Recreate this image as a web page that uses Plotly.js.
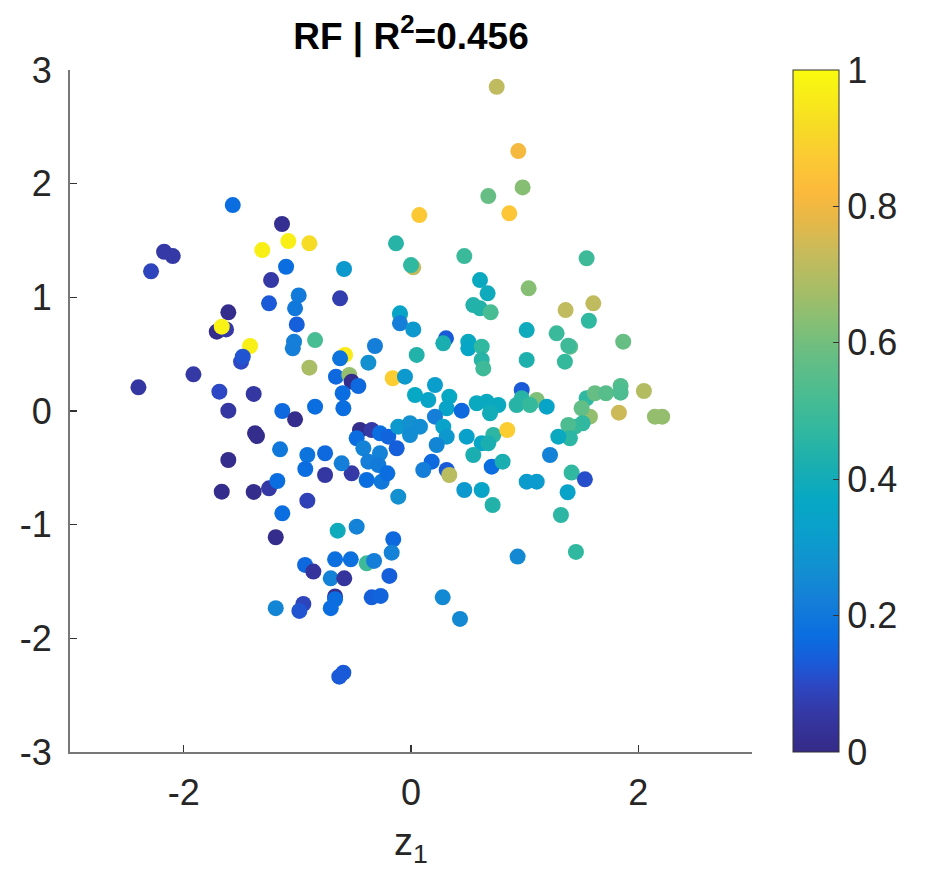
<!DOCTYPE html>
<html>
<head>
<meta charset="utf-8">
<script src="https://cdn.plot.ly/plotly-3.0.1.min.js"></script>
<style>html,body{margin:0;padding:0;background:#fff;}#chart{width:925px;height:883px;}</style>
</head>
<body>
<div id="chart"></div>
<script>
// z1 coordinates
const z1 = [
-1.568,-1.135,-1.308,-1.079,-0.894,-2.172,-2.096,-2.287,-1.099,-1.231,
-0.988,-1.249,-1.02,-1.005,-1.607,-1.709,-1.627,-1.665,-1.416,-1.495,
-1.48,-1.04,-1.029,-0.844,-0.894,-1.914,-2.398,-1.686,-1.384,-1.607,
-1.132,-1.02,-0.844,-1.372,-1.355,-1.152,-0.912,-0.93,-1.607,-1.665,
-1.384,-1.249,-1.176,-0.912,-1.132,-1.19,-0.932,-0.859,-1.19,-0.947,
-0.982,
0.754,0.944,0.982,0.68,0.865,0.073,-0.132,0.02,0.0,0.469,
0.607,0.674,1.035,-0.589,-0.624,1.545,
0.548,0.607,0.701,-0.097,-0.097,-0.097,0.02,-0.58,-0.624,-0.317,
-0.375,0.05,0.308,0.284,0.504,0.504,0.622,0.622,0.636,1.018,
1.018,-0.66,-0.543,-0.522,-0.463,-0.601,-0.161,-0.053,0.211,0.035,
0.152,0.337,0.314,0.446,0.578,0.666,0.768,0.695,0.974,0.974,
0.93,1.106,1.047,-0.595,-0.449,-0.346,-0.273,-0.478,-0.2,-0.112,
-0.009,0.079,-0.009,0.211,0.284,0.314,0.226,0.49,0.622,0.548,
0.724,0.68,0.847,0.71,0.806,0.314,0.337,0.182,0.108,-0.126,
-0.273,-0.419,-0.375,-0.287,-0.39,-0.258,-0.208,-0.522,-0.61,-0.756,
-0.756,-0.112,0.469,0.622,0.718,1.018,1.106,
1.36,1.604,1.565,1.281,1.40,1.384,1.354,1.867,1.194,1.545,
1.618,1.715,1.844,1.844,2.049,1.574,1.501,1.829,2.146,2.21,
1.51,1.442,1.384,1.398,1.296,1.223,1.413,1.53,1.378,1.319,
1.451,
-0.645,-0.478,-0.156,-0.17,-0.668,-0.53,-0.39,-0.325,-0.706,-0.587,
-0.19,-0.668,-0.668,-0.706,-0.346,-0.267,0.279,0.431,0.938,-0.595,
-0.631
];
// z2 coordinates
const z2 = [
1.812,1.645,1.416,1.495,1.475,1.401,1.363,1.229,1.269,1.152,
1.017,0.947,0.903,0.762,0.868,0.698,0.718,0.742,0.572,0.434,
0.478,0.551,0.61,0.624,0.381,0.323,0.208,0.17,0.15,0.003,
0.0,-0.073,0.038,-0.196,-0.22,-0.337,-0.387,-0.51,-0.431,-0.71,
-0.712,-0.68,-0.616,-0.789,-0.9,-1.111,-1.354,-1.413,-1.735,-1.697,
-1.759,
2.852,2.287,1.967,1.891,1.739,1.724,1.475,1.264,1.284,1.363,
1.152,1.035,1.079,1.249,0.991,1.343,
0.932,0.903,0.868,0.85,0.859,0.771,0.718,0.493,0.463,0.572,
0.425,0.493,0.639,0.595,0.61,0.551,0.566,0.449,0.375,0.712,
0.449,0.302,0.317,0.258,0.22,0.156,0.288,0.302,0.229,0.141,
0.097,0.126,0.024,0.003,0.068,0.082,0.053,-0.02,0.185,0.112,
0.053,0.097,0.053,0.024,-0.167,-0.167,-0.196,-0.24,-0.226,-0.138,
-0.108,-0.138,-0.211,-0.05,-0.138,-0.226,-0.299,-0.226,-0.284,-0.387,
-0.211,-0.284,-0.167,-0.49,-0.446,-0.519,-0.563,-0.446,-0.519,-0.328,
-0.372,-0.328,-0.446,-0.475,-0.607,-0.622,-0.548,-0.548,-0.46,-0.372,
-0.563,-0.754,-0.695,-0.695,-0.827,-0.622,-0.622,
0.888,0.947,0.794,0.683,0.566,0.575,0.434,0.61,0.038,0.112,
0.156,0.156,0.22,0.161,0.176,-0.05,0.024,-0.015,-0.05,-0.05,
-0.108,-0.138,-0.123,-0.24,-0.226,-0.387,-0.542,-0.601,-0.715,-0.915,
-1.24,
-1.053,-1.018,-1.128,-1.246,-1.305,-1.305,-1.34,-1.319,-1.472,-1.472,
-1.451,-1.631,-1.656,-1.735,-1.639,-1.627,-1.639,-1.829,-1.281,-2.302,
-2.337
];
// colour values (0..1)
const vals = [
0.17,0.02,0.97,0.97,0.92,0.06,0.06,0.09,0.17,0.06,
0.21,0.13,0.20,0.14,0.01,0.01,0.06,0.98,0.97,0.10,
0.12,0.22,0.22,0.52,0.68,0.06,0.05,0.10,0.05,0.05,
0.16,0.01,0.17,0.01,0.01,0.20,0.19,0.17,0.01,0.01,
0.01,0.06,0.17,0.08,0.17,0.01,0.16,0.04,0.24,0.09,
0.12,
0.72,0.81,0.63,0.58,0.86,0.87,0.45,0.72,0.47,0.49,
0.38,0.39,0.63,0.30,0.07,0.50,
0.44,0.44,0.52,0.58,0.35,0.22,0.30,0.96,0.19,0.22,
0.27,0.44,0.13,0.42,0.38,0.36,0.47,0.45,0.50,0.39,
0.43,0.16,0.65,0.01,0.16,0.17,0.88,0.30,0.32,0.37,
0.35,0.37,0.35,0.16,0.38,0.38,0.38,0.40,0.13,0.45,
0.45,0.62,0.48,0.17,0.01,0.06,0.17,0.17,0.15,0.30,
0.27,0.26,0.26,0.22,0.34,0.30,0.24,0.33,0.36,0.42,
0.46,0.42,0.88,0.17,0.42,0.13,0.71,0.16,0.22,0.14,
0.23,0.23,0.22,0.21,0.17,0.20,0.17,0.06,0.22,0.16,
0.05,0.27,0.30,0.35,0.44,0.31,0.31,
0.72,0.72,0.47,0.49,0.55,0.50,0.48,0.58,0.35,0.47,
0.58,0.55,0.54,0.53,0.70,0.65,0.57,0.74,0.65,0.65,
0.47,0.48,0.53,0.46,0.38,0.23,0.47,0.11,0.34,0.46,
0.47,
0.39,0.23,0.16,0.23,0.18,0.18,0.50,0.22,0.23,0.04,
0.14,0.02,0.17,0.17,0.14,0.15,0.25,0.25,0.25,0.13,
0.13
];
const yTickVals = [-3,-2,-1,0,1,2,3];
const yTickText = ['-3','-2','-1','0','1','2','3'];
const xTickVals = [-2,0,2];
const xTickText = ['-2','0','2'];
const cTickVals = [0,0.2,0.4,0.6,0.8,1];
const cTickText = ['0','0.2','0.4','0.6','0.8','1'];

const parula = [
[0.00,'#352a87'],[0.06,'#3439a6'],[0.10,'#2c48c4'],[0.13,'#1a5ad8'],
[0.17,'#0a6ee0'],[0.22,'#147ed8'],[0.27,'#1290d0'],[0.32,'#0a9ecc'],
[0.37,'#07a8c4'],[0.42,'#1aaeb0'],[0.47,'#30b8a0'],[0.52,'#48bc92'],
[0.58,'#66be84'],[0.63,'#86bf74'],[0.68,'#a8bd66'],[0.73,'#c6bb5c'],
[0.78,'#e6b848'],[0.82,'#fbb93c'],[0.87,'#fcc934'],[0.92,'#f6dc24'],
[1.00,'#f9fb0e']
];

const FONT = 'Liberation Sans, Arial, Helvetica, sans-serif';
const TICK = 36;
const trace = {
  type: 'scatter', mode: 'markers', x: z1, y: z2,
  marker: {
    size: 16, color: vals, colorscale: parula, cmin: 0, cmax: 1,
    line: {width: 0}, opacity: 1,
    colorbar: {
      x: 1.0601, xanchor: 'left', y: 0.5, yanchor: 'middle',
      len: 1, lenmode: 'fraction', thickness: 46, ypad: 0, xpad: 0,
      outlinewidth: 1, outlinecolor: '#333',
      tickmode: 'array', tickvals: cTickVals, ticktext: cTickText,
      ticks: 'inside', ticklen: 6, tickcolor: '#333', tickwidth: 1,
      tickfont: {family: FONT, size: TICK, color: '#262626'}
    }
  },
  hoverinfo: 'x+y'
};

const axisCommon = {
  showgrid: false, zeroline: false, showline: true, mirror: false,
  linecolor: '#777', linewidth: 2, ticks: 'inside', ticklen: 7,
  tickcolor: '#333', tickwidth: 1.5,
  tickfont: {family: FONT, size: TICK, color: '#262626'}
};

const layout = {
  width: 925, height: 883,
  margin: {l: 70, r: 173, t: 70, b: 131},
  paper_bgcolor: '#fff', plot_bgcolor: '#fff',
  showlegend: false,
  title: {
    text: '<b>RF | R<sup>2</sup>=0.456</b>',
    font: {family: FONT, size: 37, color: '#000'},
    x: 0.5, xref: 'paper', xanchor: 'center',
    y: 1 - 36/883, yref: 'container', yanchor: 'middle'
  },
  xaxis: Object.assign({}, axisCommon, {
    range: [-3, 3], tickmode: 'array', tickvals: xTickVals, ticktext: xTickText,
    ticklabelstandoff: 8,
    title: {text: 'z<sub>1</sub>', font: {family: FONT, size: 38, color: '#262626'}, standoff: 16}
  }),
  yaxis: Object.assign({}, axisCommon, {
    range: [-3, 3], tickmode: 'array', tickvals: yTickVals, ticktext: yTickText,
    ticklabelstandoff: 9
  })
};

Plotly.newPlot('chart', [trace], layout, {displayModeBar: false, staticPlot: true});
</script>
</body>
</html>
